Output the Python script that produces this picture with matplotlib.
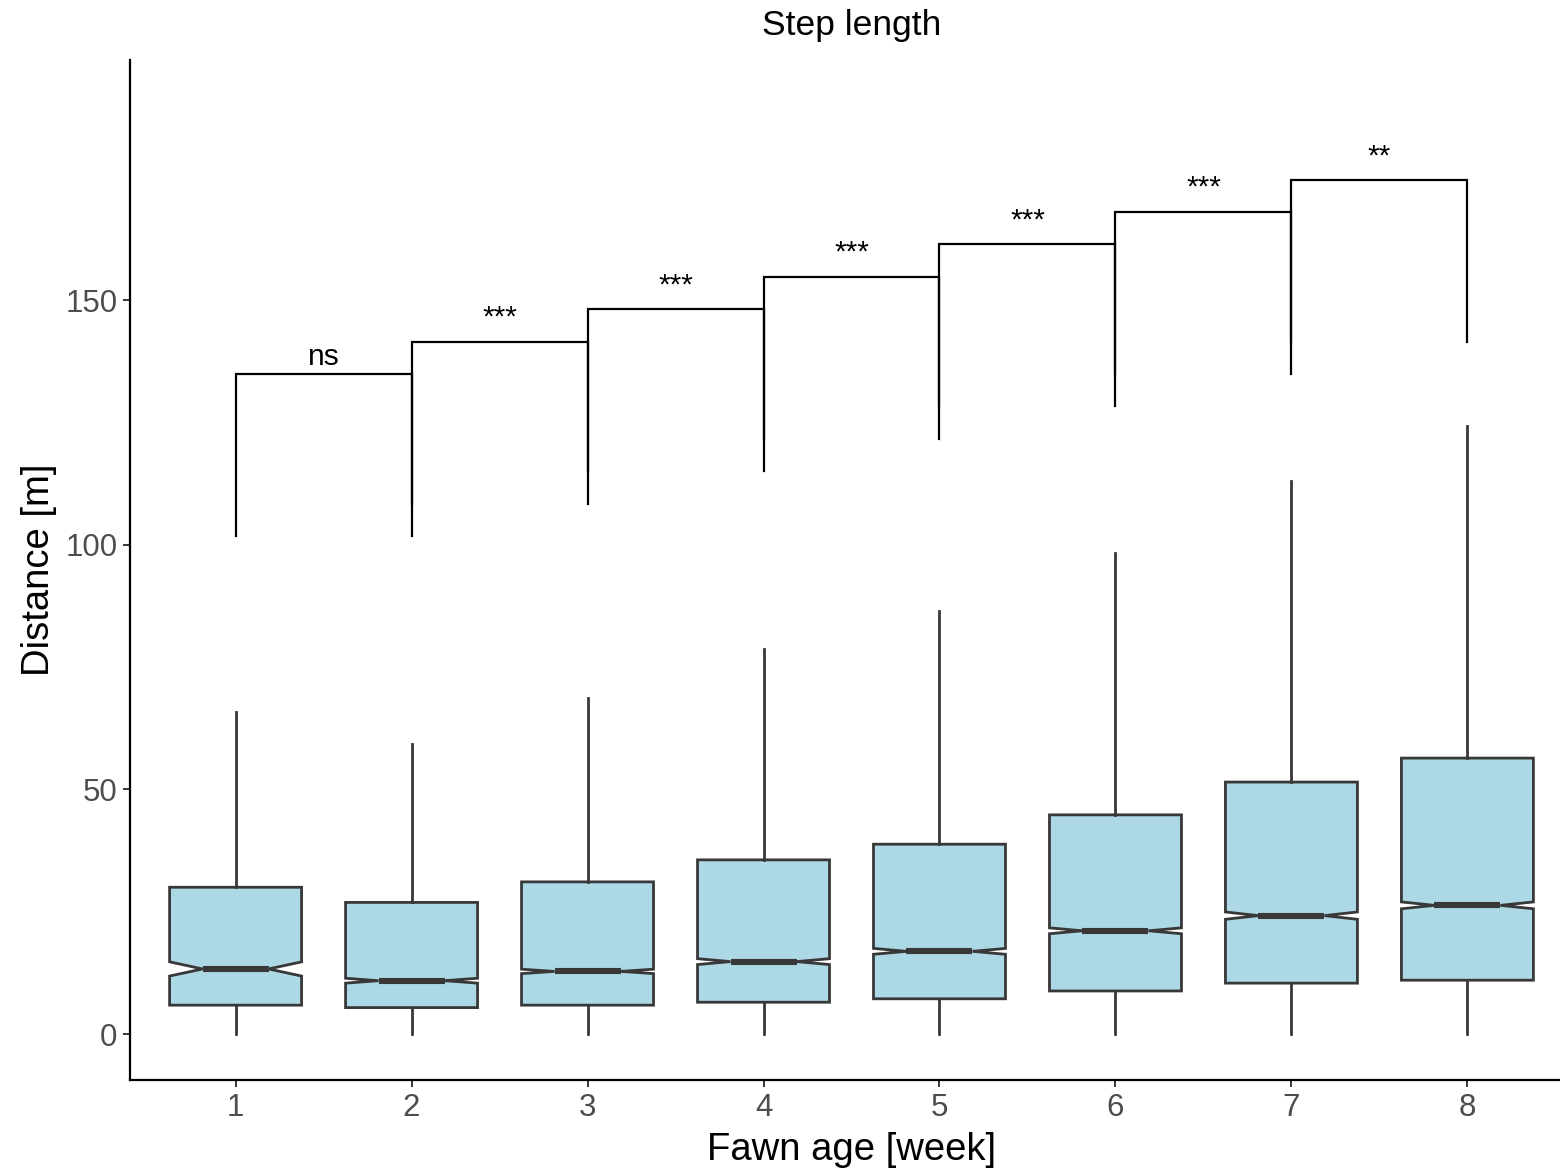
"""
    Step length boxplot (notched) with significance brackets
"""

import matplotlib
matplotlib.use("Agg")
import matplotlib.pyplot as plt

plt.rcParams['font.family'] = ['Liberation Sans', 'DejaVu Sans']

# data
weeks = [1, 2, 3, 4, 5, 6, 7, 8]
q1 = [5.9, 5.4, 5.9, 6.5, 7.2, 8.8, 10.4, 11.0]
med = [13.3, 10.9, 12.8, 14.8, 16.9, 21.1, 24.2, 26.3]
q3 = [30.0, 26.9, 31.1, 35.6, 38.8, 44.8, 51.5, 56.4]
whis_lo = [0, 0, 0, 0, 0, 0, 0, 0]
whis_hi = [65.8, 59.3, 68.7, 78.7, 86.4, 98.3, 113.0, 124.3]
notch_half = [1.45, 0.5, 0.45, 0.6, 0.6, 0.6, 0.75, 0.7]

pairs = [(1, 2), (2, 3), (3, 4), (4, 5), (5, 6), (6, 7), (7, 8)]
bracket_y = [134.9, 141.5, 148.1, 154.8, 161.4, 168.0, 174.5]
bracket_labels = ["ns", "***", "***", "***", "***", "***", "**"]
tip_len = 33.1

EDGE = '#383838'
FILL = '#ADD8E6'


def make_stats():
    stats = []
    for i in range(len(weeks)):
        stats.append(dict(med=med[i], q1=q1[i], q3=q3[i],
                          whislo=whis_lo[i], whishi=whis_hi[i],
                          cilo=med[i] - notch_half[i], cihi=med[i] + notch_half[i],
                          fliers=[]))
    return stats


def main():
    fig = plt.figure(figsize=(15.6, 11.69), dpi=100)
    ax = fig.add_axes([130 / 1560, 1 - 1080 / 1169, (1573 - 130) / 1560, (1080 - 60) / 1169])

    ax.bxp(make_stats(), positions=weeks, widths=0.75, shownotches=True, patch_artist=True,
           showcaps=False, showfliers=False,
           boxprops=dict(facecolor=FILL, edgecolor=EDGE, linewidth=2.0),
           medianprops=dict(color=EDGE, linewidth=4.4, solid_capstyle='butt'),
           whiskerprops=dict(color=EDGE, linewidth=2.0))

    for (a, b), y, lab in zip(pairs, bracket_y, bracket_labels):
        ax.plot([a, a, b, b], [y - tip_len, y, y, y - tip_len], color='black', lw=1.6,
                solid_joinstyle='miter')
        # asterisks sit a little higher in the reference font
        off = 1.9 if lab == "ns" else 3.3
        ax.text((a + b) / 2, y + off, lab, ha='center', va='baseline', fontsize=21.5, color='black')

    ax.set_xlim(0.4, 8.6)
    ax.set_ylim(-9.4, 199.1)
    ax.set_xticks(weeks)
    ax.set_xticklabels([str(w) for w in weeks])
    ax.set_yticks([0, 50, 100, 150])

    for side in ['top', 'right']:
        ax.spines[side].set_visible(False)
    for side in ['left', 'bottom']:
        ax.spines[side].set_linewidth(1.6)
        ax.spines[side].set_color('black')

    ax.tick_params(axis='both', length=5, width=1.4, color=EDGE, labelcolor='#4D4D4D',
                   labelsize=22.5, pad=4)

    ax.set_xlabel("Fawn age [week]", fontsize=27.5, labelpad=7)
    ax.set_ylabel("Distance [m]", fontsize=27.5, labelpad=6)
    ax.set_title("Step length", fontsize=25.5, pad=18)

    fig.savefig("out.png", dpi=100)


if __name__ == '__main__':
    main()
